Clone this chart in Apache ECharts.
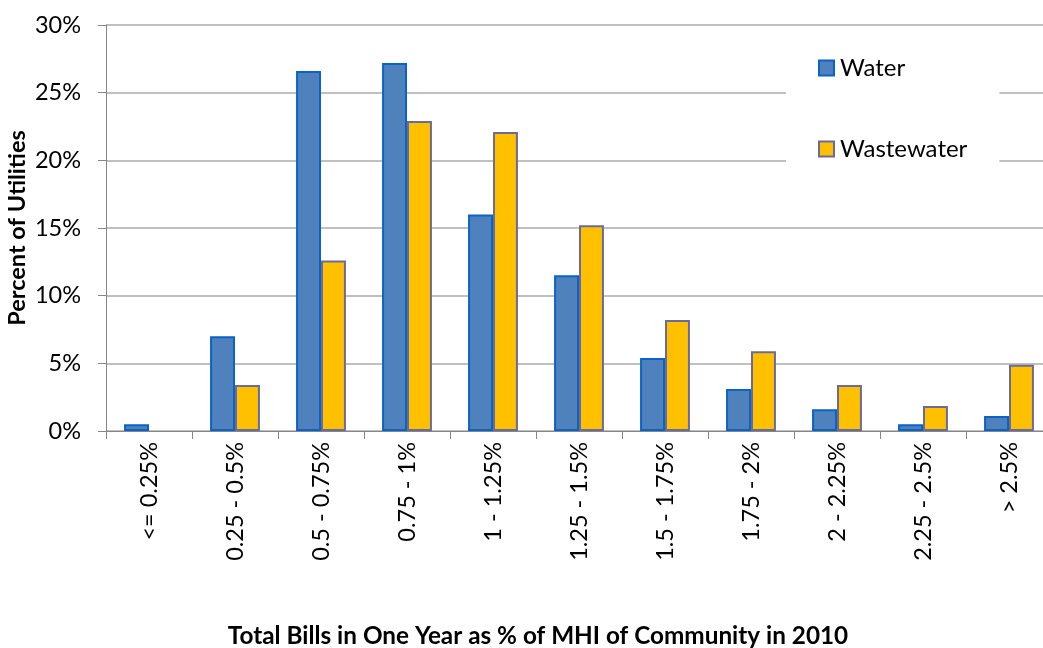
<!DOCTYPE html>
<html>
<head>
<meta charset="utf-8">
<script src="https://cdn.jsdelivr.net/npm/echarts@6/dist/echarts.min.js"></script>
<style>html,body{margin:0;padding:0;background:#fff}#c{width:1043px;height:648px}</style>
</head>
<body>
<div id="c"></div>
<script>
const categories = ['<= 0.25%', '0.25 - 0.5%', '0.5 - 0.75%', '0.75 - 1%', '1 - 1.25%', '1.25 - 1.5%', '1.5 - 1.75%', '1.75 - 2%', '2 - 2.25%', '2.25 - 2.5%', '> 2.5%'];
const water = [0.5, 7.0, 26.6, 27.2, 16.0, 11.5, 5.4, 3.1, 1.6, 0.5, 1.1];
const wastewater = [0, 3.4, 12.6, 22.9, 22.1, 15.2, 8.2, 5.9, 3.4, 1.85, 4.9];
const yTicks = [0, 5, 10, 15, 20, 25, 30];

const FONT = 'Lato, "Open Sans", sans-serif';
const noZero = arr => arr.map(v => (v === 0 ? '-' : v));
const chart = echarts.init(document.getElementById('c'), null, {renderer: 'canvas'});
chart.setOption({
  animation: false,
  backgroundColor: '#ffffff',
  title: {
    text: 'Total Bills in One Year as % of MHI of Community in 2010',
    left: 538, top: 624, textAlign: 'center', padding: 0,
    textStyle: {fontFamily: FONT, fontSize: 24.3, fontWeight: 'bold', color: '#000'}
  },
  legend: {
    orient: 'vertical',
    left: 786, top: 36,
    padding: [20, 32, 20, 32],
    backgroundColor: '#ffffff',
    itemWidth: 15, itemHeight: 15,
    itemGap: 57,
    icon: 'rect',
    textStyle: {fontFamily: FONT, fontSize: 24, color: '#000', padding: [0, 0, 0, 1]},
    data: ['Water', 'Wastewater']
  },
  grid: {left: 106, top: 25, width: 946, height: 406, containLabel: false, outerBoundsMode: 'none'},
  xAxis: {
    type: 'category',
    data: categories,
    axisLine: {lineStyle: {color: '#868686', width: 1}},
    axisTick: {show: true, length: 8, lineStyle: {color: '#868686'}},
    axisLabel: {rotate: 90, margin: 11, fontFamily: FONT, fontSize: 23.5, color: '#000', interval: 0}
  },
  yAxis: {
    type: 'value',
    min: 0, max: 30, interval: 5,
    name: 'Percent of Utilities',
    nameLocation: 'middle',
    nameGap: 77,
    nameMoveOverlap: false,
    nameRotate: 90,
    nameTextStyle: {fontFamily: FONT, fontSize: 23.5, fontWeight: 'bold', color: '#000'},
    axisLine: {show: true, lineStyle: {color: '#868686'}},
    axisTick: {show: true, length: 8, lineStyle: {color: '#868686'}},
    splitLine: {lineStyle: {color: '#ababab', width: 1.5}},
    axisLabel: {
      margin: 25, fontFamily: FONT, fontSize: 23.5, color: '#000',
      formatter: v => yTicks.includes(v) ? v + '%' : ''
    }
  },
  series: [
    {
      name: 'Water', type: 'bar', data: noZero(water),
      barGap: '0%', barCategoryGap: '42%',
      itemStyle: {color: '#4F81BD', borderColor: '#0A64C8', borderWidth: 2}
    },
    {
      name: 'Wastewater', type: 'bar', data: noZero(wastewater),
      itemStyle: {color: '#FFC000', borderColor: '#6B6B9A', borderWidth: 2}
    }
  ]
});
</script>
</body>
</html>
